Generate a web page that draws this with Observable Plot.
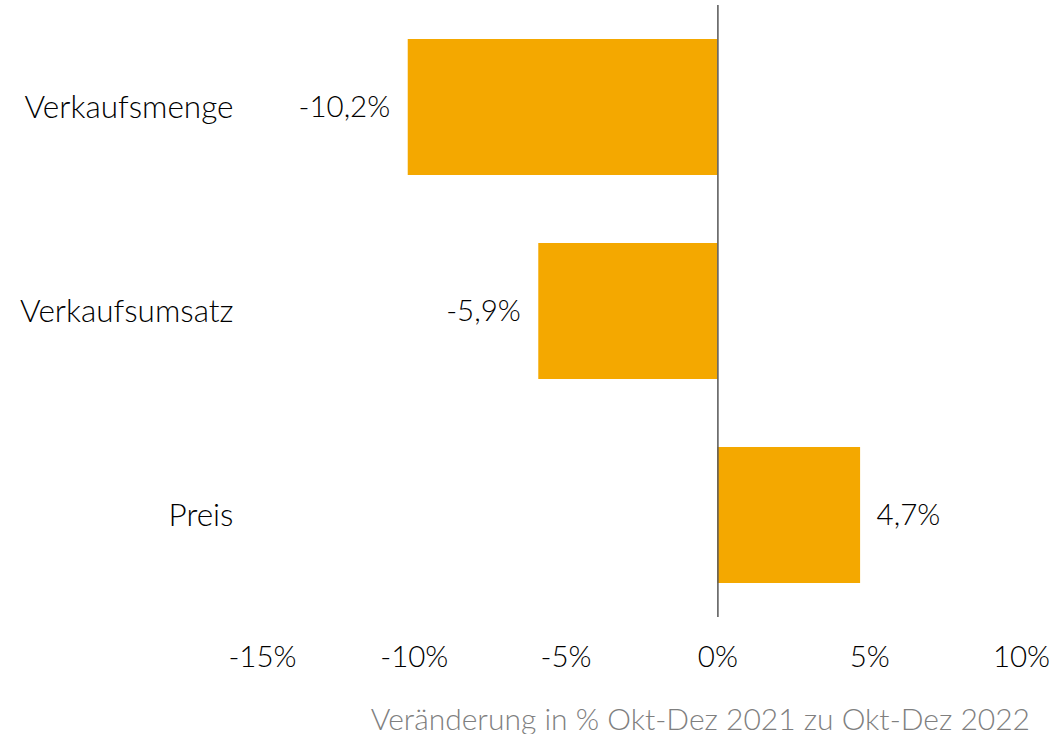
<!DOCTYPE html>
<html>
<head>
<meta charset="utf-8">
<script src="https://cdn.jsdelivr.net/npm/d3@7"></script>
<script src="https://cdn.jsdelivr.net/npm/@observablehq/plot@0.6"></script>
<style>
  body { margin: 0; background: #fff; font-family: Lato, "Noto Sans", sans-serif; }
  #caption { width: 1064px; box-sizing: border-box; text-align: right; padding-right: 34px; padding-top: 12px; font-size: 30px; font-weight: 300; color: #7f7f7f; line-height: 32px; white-space: nowrap; }
</style>
</head>
<body>
<div id="chart"></div>
<div id="caption"></div>
<script>
const categories = ["Verkaufsmenge", "Verkaufsumsatz", "Preis"];
const values = [-10.2, -5.9, 4.7];
const valueLabels = ["-10,2%", "-5,9%", "4,7%"];
const xTicks = [-15, -10, -5, 0, 5, 10];
const captionText = "Veränderung in % Okt-Dez 2021 zu Okt-Dez 2022";

const data = categories.map((c, i) => ({category: c, value: values[i], label: valueLabels[i]}));

const chart = Plot.plot({
  width: 1064,
  height: 690,
  marginLeft: 262,
  marginRight: 43,
  marginTop: 5,
  marginBottom: 73,
  style: {fontFamily: "Lato, 'Noto Sans', sans-serif", fontSize: "30px", fontWeight: 300, color: "#000", background: "#fff"},
  x: {domain: [-15, 10], axis: null},
  y: {domain: categories, paddingInner: 0.334, paddingOuter: 0.165, axis: null},
  marks: [
    Plot.barX(data, {x: "value", y: "category", fill: "#F4A800"}),
    Plot.ruleX([0], {stroke: "#555", strokeWidth: 1.5}),
    Plot.axisX(xTicks, {tickSize: 0, tickPadding: 29, tickFormat: d => `${d}%`, fontSize: 29.5, label: null, fill: "#000"}),
    Plot.axisY(categories, {tickSize: 0, tickPadding: 29, fontSize: 31.5, label: null, fill: "#000"}),
    Plot.text(data.filter(d => d.value < 0), {x: "value", y: "category", text: "label", textAnchor: "end", dx: -18, fontSize: 29.5, fill: "#000"}),
    Plot.text(data.filter(d => d.value >= 0), {x: "value", y: "category", text: "label", textAnchor: "start", dx: 16, fontSize: 29.5, fill: "#000"})
  ]
});
document.getElementById("chart").append(chart);
document.getElementById("caption").textContent = captionText;
</script>
</body>
</html>
